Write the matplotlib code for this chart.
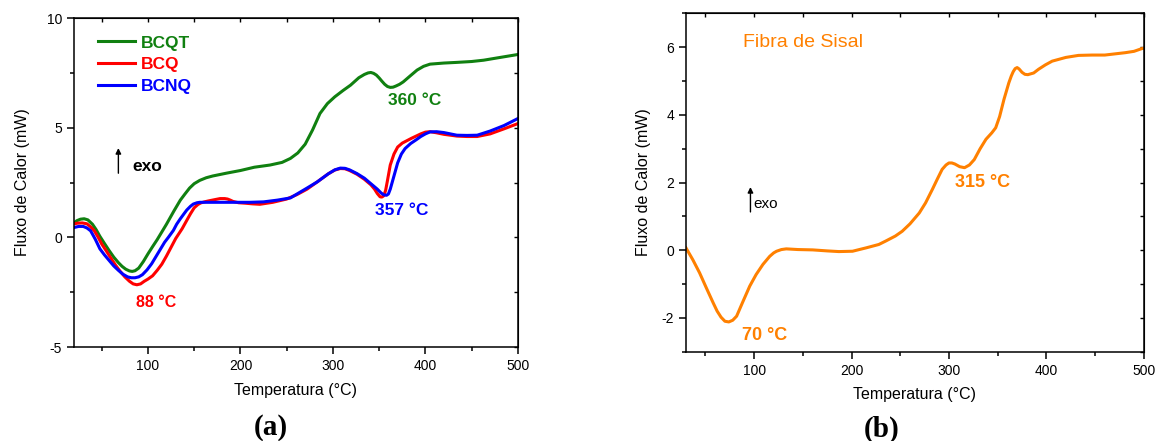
import numpy as np
import matplotlib.pyplot as plt
from matplotlib.ticker import MultipleLocator

plt.rcParams['font.family'] = ['Liberation Sans', 'DejaVu Sans']
plt.rcParams['axes.unicode_minus'] = False

# (a) DSC curves
bcqt_t = [20, 23, 27, 31, 35, 40, 44, 48, 53, 58, 63, 68, 72, 76, 80, 83, 86, 90, 95, 100, 105, 110,
          115, 120, 128, 135, 140, 145, 150, 156, 163, 170, 185, 200, 215, 232, 245, 254, 262, 270,
          278, 286, 294, 302, 311, 319, 328, 334, 338, 341, 344, 347, 350, 353, 356, 359, 362, 365,
          368, 372, 376, 384, 391, 398, 405, 420, 434, 450, 463, 480, 500]
bcqt_q = [0.65, 0.76, 0.83, 0.85, 0.8, 0.6, 0.35, 0.05, -0.28, -0.6, -0.9, -1.15, -1.32, -1.45,
          -1.53, -1.55, -1.52, -1.4, -1.1, -0.75, -0.42, -0.1, 0.25, 0.6, 1.2, 1.7, 1.98, 2.25,
          2.45, 2.6, 2.72, 2.8, 2.93, 3.05, 3.2, 3.3, 3.42, 3.6, 3.85, 4.25, 4.9, 5.65, 6.1, 6.41,
          6.7, 6.94, 7.28, 7.43, 7.5, 7.52, 7.48, 7.4, 7.27, 7.12, 6.98, 6.88, 6.84, 6.85, 6.9,
          6.98, 7.09, 7.38, 7.63, 7.8, 7.9, 7.95, 7.98, 8.02, 8.08, 8.2, 8.34]

bcq_t = [20, 24, 29, 34, 38, 42, 46, 50, 55, 60, 65, 70, 75, 80, 84, 88, 92, 96, 100, 105, 110,
         115, 120, 125, 130, 137, 142, 146, 150, 154, 157, 161, 165, 172, 178, 183, 186, 189, 192,
         198, 205, 213, 221, 235, 250, 261, 272, 283, 295, 302, 308, 313, 318, 326, 334, 341, 345,
         348, 351, 353, 355, 357, 359, 362, 366, 370, 375, 385, 395, 400, 405, 412, 420, 434, 445,
         456, 470, 485, 500]
bcq_q = [0.62, 0.65, 0.66, 0.62, 0.48, 0.3, 0.02, -0.3, -0.62, -0.95, -1.27, -1.55, -1.8, -2.0,
         -2.12, -2.16, -2.12, -2.0, -1.9, -1.75, -1.5, -1.22, -0.85, -0.45, -0.05, 0.4, 0.78,
         1.08, 1.35, 1.5, 1.57, 1.62, 1.66, 1.72, 1.77, 1.77, 1.75, 1.7, 1.64, 1.58, 1.56, 1.53,
         1.51, 1.6, 1.75, 1.95, 2.2, 2.53, 2.9, 3.07, 3.14, 3.13, 3.05, 2.88, 2.65, 2.4, 2.2,
         2.0, 1.85, 1.84, 1.9, 2.15, 2.6, 3.3, 3.8, 4.12, 4.3, 4.52, 4.72, 4.8, 4.82, 4.77, 4.7,
         4.62, 4.6, 4.6, 4.72, 4.95, 5.19]

bcnq_t = [20, 25, 30, 34, 38, 43, 48, 53, 58, 63, 68, 73, 78, 82, 86, 90, 94, 99, 104, 109, 114,
          118, 122, 127.5, 131, 135, 139, 142, 146, 149, 153, 156, 170, 190, 210, 225, 240, 254,
          262, 272, 283, 295, 302, 308, 313, 318, 326, 334, 341, 348, 352, 355, 358, 360, 362, 364,
          366, 370, 374, 378, 384, 390, 395, 400, 405, 412, 420, 434, 445, 456, 470, 485, 500]
bcnq_q = [0.45, 0.5, 0.5, 0.43, 0.3, -0.08, -0.52, -0.8, -1.05, -1.3, -1.5, -1.68, -1.8, -1.84,
          -1.84, -1.8, -1.7, -1.48, -1.2, -0.85, -0.5, -0.22, 0.0, 0.32, 0.6, 0.85, 1.08, 1.25,
          1.42, 1.52, 1.58, 1.6, 1.6, 1.6, 1.6, 1.62, 1.7, 1.8, 2.0, 2.25, 2.53, 2.9, 3.08, 3.16,
          3.15, 3.08, 2.91, 2.7, 2.45, 2.2, 2.03, 1.94, 1.92, 1.98, 2.2, 2.5, 2.8, 3.4, 3.8, 4.05,
          4.28, 4.45, 4.6, 4.72, 4.81, 4.82, 4.78, 4.66, 4.65, 4.66, 4.85, 5.1, 5.42]

# (b) sisal fibre
sisal_t = [30, 37, 44, 51, 58, 62, 66, 70, 74, 78, 82, 88, 95.5, 102, 109, 116, 120, 123, 128, 133,
           145, 160, 175, 187, 201, 215, 228, 235, 245, 252, 260, 269.5, 276, 283, 288, 293, 297,
           300, 303, 306, 311, 316, 321, 326, 332, 338, 344, 348, 352, 356.5, 361.5, 364, 366,
           368, 370, 372, 375, 378, 381, 387, 392, 399, 406, 420, 433, 447, 460, 481, 490, 498, 500]
sisal_q = [0.07, -0.28, -0.67, -1.12, -1.56, -1.8, -1.98, -2.1, -2.12, -2.07, -1.95, -1.55, -1.06,
           -0.72, -0.42, -0.18, -0.08, -0.03, 0.02, 0.04, 0.02, 0.01, -0.02, -0.04, -0.03, 0.07,
           0.17, 0.27, 0.42, 0.56, 0.78, 1.1, 1.4, 1.8, 2.1, 2.39, 2.52, 2.58, 2.58, 2.55, 2.47,
           2.44, 2.52, 2.68, 3.0, 3.28, 3.47, 3.62, 3.95, 4.46, 4.95, 5.15, 5.28, 5.37, 5.4, 5.36,
           5.26, 5.2, 5.19, 5.24, 5.35, 5.48, 5.59, 5.7, 5.76, 5.77, 5.77, 5.84, 5.88, 5.96, 5.97]

green = '#108010'
red = '#ff0000'
blue = '#0000ff'
orange = '#ff8000'


def style_axes(ax, xlim, ylim, ymajor, yminor):
    ax.set_xlim(*xlim)
    ax.set_ylim(*ylim)
    ax.xaxis.set_major_locator(MultipleLocator(100))
    ax.xaxis.set_minor_locator(MultipleLocator(50))
    ax.yaxis.set_major_locator(MultipleLocator(ymajor))
    ax.yaxis.set_minor_locator(MultipleLocator(yminor))
    ax.tick_params(which='major', direction='out', length=5, width=1.1, labelsize=10)
    ax.tick_params(which='minor', direction='out', length=3, width=1.1)
    for s in ax.spines.values():
        s.set_linewidth(1.1)
    # mirrored inward ticks on top and right
    top = ax.secondary_xaxis('top')
    top.xaxis.set_major_locator(MultipleLocator(50))
    top.tick_params(direction='in', length=3, width=1.0, labeltop=False)
    right = ax.secondary_yaxis('right')
    right.yaxis.set_major_locator(MultipleLocator(yminor))
    right.tick_params(direction='in', length=3, width=1.0, labelright=False)
    ax.set_xlabel('Temperatura (°C)', fontsize=11.5, labelpad=7)


fig = plt.figure(figsize=(11.56, 4.41), dpi=100)

ax1 = fig.add_axes([0.064, 0.213, 0.384, 0.746])
ax1.plot(bcqt_t, bcqt_q, color=green, lw=2.2, label='BCQT')
ax1.plot(bcq_t, bcq_q, color=red, lw=2.2, label='BCQ')
ax1.plot(bcnq_t, bcnq_q, color=blue, lw=2.2, label='BCNQ')
style_axes(ax1, (20, 500), (-5, 10), 5, 2.5)
ax1.set_ylabel('Fluxo de Calor (mW)', fontsize=11.5, labelpad=12)
leg = ax1.legend(loc='upper left', bbox_to_anchor=(0.018, 0.995), frameon=False,
                 handlelength=2.15, handletextpad=0.35, labelspacing=0.38,
                 prop={'weight': 'bold', 'size': 12.5}, labelcolor='linecolor')
ax1.annotate('', xy=(68, 4.2), xytext=(68, 2.8),
             arrowprops=dict(arrowstyle='-|>', color='black', lw=1.0, mutation_scale=8))
ax1.text(83, 3.25, 'exo', fontsize=12.5, fontweight='bold', va='center')
ax1.text(388, 6.26, '360 °C', color=green, fontsize=12.5, fontweight='bold', ha='center', va='center')
ax1.text(374, 1.23, '357 °C', color=blue, fontsize=12.5, fontweight='bold', ha='center', va='center')
ax1.text(108.5, -2.95, '88 °C', color=red, fontsize=11.5, fontweight='bold', ha='center', va='center')
fig.text(0.234, 0.015, '(a)', fontsize=21, fontweight='bold', family='Liberation Serif', ha='center')

ax2 = fig.add_axes([0.5934, 0.2025, 0.396, 0.767])
ax2.plot(sisal_t, sisal_q, color=orange, lw=2.2)
style_axes(ax2, (30, 500), (-3, 7), 2, 1)
ax2.set_ylabel('Fluxo de Calor (mW)', fontsize=11.5, labelpad=8)
ax2.text(150, 6.15, 'Fibra de Sisal', color=orange, fontsize=14, ha='center', va='center')
ax2.annotate('', xy=(96.2, 1.95), xytext=(96.2, 1.05),
             arrowprops=dict(arrowstyle='-|>', color='black', lw=1.0, mutation_scale=8))
ax2.text(99, 1.38, 'exo', fontsize=11, va='center')
ax2.text(334, 2.01, '315 °C', color=orange, fontsize=13, fontweight='bold', ha='center', va='center')
ax2.text(110.5, -2.52, '70 °C', color=orange, fontsize=13, fontweight='bold', ha='center', va='center')
fig.text(0.763, 0.01, '(b)', fontsize=21, fontweight='bold', family='Liberation Serif', ha='center')

fig.savefig('out.png', dpi=100)
